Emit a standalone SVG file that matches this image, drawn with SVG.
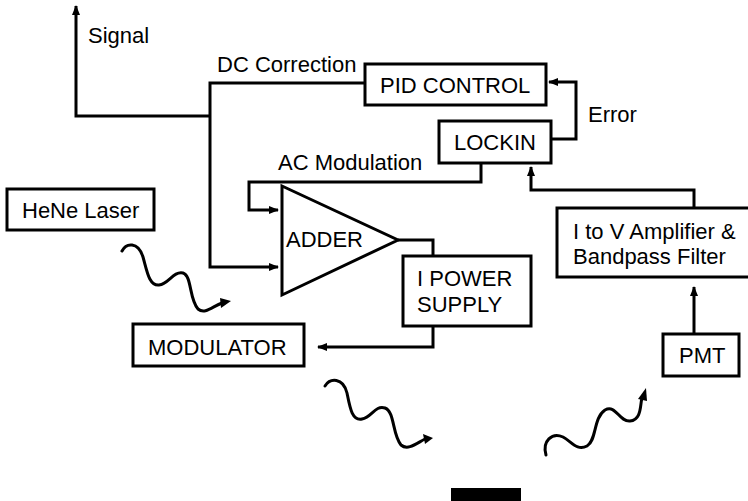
<svg xmlns="http://www.w3.org/2000/svg" width="748" height="501" viewBox="0 0 748 501">
<defs>
<marker id="ah" markerWidth="10" markerHeight="8" refX="9" refY="4" orient="auto" markerUnits="userSpaceOnUse">
<path d="M0,0 L10,4 L0,8 Z" fill="#000"/>
</marker>
<style>
.box{fill:#fff;stroke:#000;stroke-width:3}
.ln{fill:none;stroke:#000;stroke-width:3}
.wv{fill:none;stroke:#000;stroke-width:3;stroke-linecap:round}
text{font-family:"Liberation Sans",Arial,sans-serif;font-size:22px;fill:#000}
</style>
</defs>
<rect width="748" height="501" fill="#fff"/>
<g id="connectors">
<path class="ln" d="M210,116 H76 V6" marker-end="url(#ah)"/>
<path class="ln" d="M365,83 H210 V267 H278" marker-end="url(#ah)"/>
<path class="ln" d="M551,139 H576 V82 H549" marker-end="url(#ah)"/>
<path class="ln" d="M481,163 V182 H249 V210 H278" marker-end="url(#ah)"/>
<path class="ln" d="M398,240 H433 V257"/>
<path class="ln" d="M433,326 V347 H318" marker-end="url(#ah)"/>
<path class="ln" d="M694,208 V190 H531 V167" marker-end="url(#ah)"/>
<path class="ln" d="M694,334 V287" marker-end="url(#ah)"/>
</g>
<g id="labels">
<text x="88" y="43">Signal</text>
<text x="217" y="72">DC Correction</text>
<text x="588" y="122">Error</text>
<text x="278" y="170">AC Modulation</text>
</g>
<g id="pid"><rect class="box" x="365" y="64" width="181" height="41"/><text x="380" y="93">PID CONTROL</text></g>
<g id="lockin"><rect class="box" x="439" y="121" width="112" height="42"/><text x="454" y="150">LOCKIN</text></g>
<g id="adder"><path class="box" d="M282,186 L398,240 L282,295 Z"/><text x="286" y="247">ADDER</text></g>
<g id="hene"><rect class="box" x="7" y="189" width="147" height="41"/><text x="22" y="218">HeNe Laser</text></g>
<g id="ipower"><rect class="box" x="403" y="256" width="128" height="70"/><text x="417" y="286">I POWER</text><text x="417" y="312">SUPPLY</text></g>
<g id="modulator"><rect class="box" x="133" y="324" width="171" height="42"/><text x="148" y="355">MODULATOR</text></g>
<g id="itov"><rect class="box" x="557" y="208" width="200" height="69"/><text x="573" y="239">I to V Amplifier &amp;</text><text x="573" y="264">Bandpass Filter</text></g>
<g id="pmt"><rect class="box" x="663" y="334" width="76" height="42"/><text x="679" y="363">PMT</text></g>
<g id="waves">
<path class="wv" d="M122,251 C126,243 138,241 143,257 C147,271 149,286 159,285 C169,284 173,271 183,273 C192,276 189,299 198,309 C205,315 213,306 222,303"/>
<path d="M220,298 L231,301 L221,308 Z" fill="#000"/>
<path class="wv" d="M325,386 C330,378 343,377 347,393 C350,408 352,421 362,419 C372,417 375,405 385,408 C395,412 392,434 401,445 C408,451 417,443 425,439"/>
<path d="M423,434 L433,438 L425,444 Z" fill="#000"/>
<path class="wv" d="M546,455 C542,441 552,432 563,437 C572,442 577,451 587,446 C597,440 593,418 605,410 C616,404 619,422 630,421 C642,420 640,404 642,398"/>
<path d="M638,399 L646,388 L647,401 Z" fill="#000"/>
</g>
<rect id="target" x="451" y="488" width="70" height="13" fill="#000"/>
</svg>
